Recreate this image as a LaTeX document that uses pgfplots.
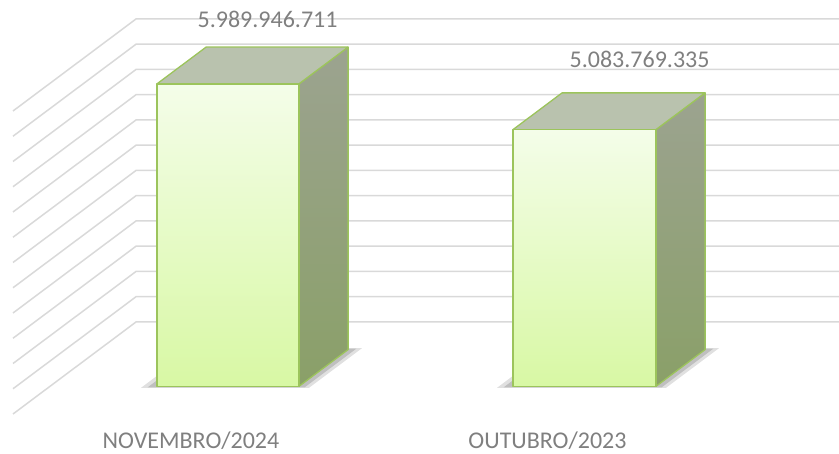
\documentclass[border=0pt]{standalone}
\usepackage{pgfplots}
\pgfplotsset{compat=1.18}
\usepackage{fontspec}
\setmainfont{Carlito}
\definecolor{gridc}{HTML}{D9D9D9}
\definecolor{txt}{HTML}{7F7F7F}
\definecolor{edge}{HTML}{9CC45C}
\definecolor{frontT}{HTML}{F4FDE9}
\definecolor{frontB}{HTML}{D8F8A4}
\definecolor{topf}{HTML}{B9C2AE}
\definecolor{sideT}{HTML}{9CA390}
\definecolor{sideB}{HTML}{8AA068}
\newcommand\drawbar[3]{%
  \addplot3[draw=none, fill=black, fill opacity=0.12] coordinates {(#1-14,0.285,0) (#2+12,0.285,0) (#2+12,0.715,0) (#1-14,0.715,0)} --cycle;
  \addplot3[draw=none, fill=black, fill opacity=0.15] coordinates {(#1-8,0.29,0) (#2+7,0.29,0) (#2+7,0.71,0) (#1-8,0.71,0)} --cycle;
  \addplot3[draw=edge, line width=1.3pt, line join=round, top color=sideT, bottom color=sideB] coordinates {(#2,0.3,0) (#2,0.7,0) (#2,0.7,#3) (#2,0.3,#3)} --cycle;
  \addplot3[draw=edge, line width=1.3pt, line join=round, fill=topf] coordinates {(#1,0.3,#3) (#2,0.3,#3) (#2,0.7,#3) (#1,0.7,#3)} --cycle;
  \addplot3[draw=edge, line width=1.3pt, line join=round, top color=frontT, bottom color=frontB] coordinates {(#1,0.3,0) (#2,0.3,0) (#2,0.3,#3) (#1,0.3,#3)} --cycle;
}
\begin{document}
\begin{tikzpicture}
\begin{axis}[
  x={(1pt,0pt)}, y={(123pt,92pt)}, z={(0pt,50.5pt)},
  xmin=0, xmax=716, ymin=0, ymax=1, zmin=0, zmax=6,
  hide axis, clip=false,
]
\pgfplotsinvokeforeach{0,0.5,1,1.5,2,2.5,3,3.5,4,4.5,5,5.5,6}{
  \addplot3[gridc, line width=1.5pt, mark=none] coordinates {(13,0,#1) (13,1,#1) (716,1,#1)};
}
\drawbar{120}{262}{5.989946711}
\drawbar{476}{619}{5.083769335}
\node[text=txt, font=\fontsize{24}{28}\selectfont, inner sep=0pt] at (axis cs:191,0.7,5.989946711) [xshift=-9.5pt, yshift=28pt] {5.989.946.711};
\node[text=txt, font=\fontsize{24}{28}\selectfont, inner sep=0pt] at (axis cs:547.5,0.7,5.083769335) [xshift=6pt, yshift=33pt] {5.083.769.335};
\node[text=txt, font=\fontsize{24}{28}\selectfont, inner sep=0pt, anchor=base] at (axis cs:191,0,0) [yshift=-35pt] {NOVEMBRO/2024};
\node[text=txt, font=\fontsize{24}{28}\selectfont, inner sep=0pt, anchor=base] at (axis cs:547.5,0,0) [yshift=-35pt] {OUTUBRO/2023};
\coordinate (BL) at (axis cs:0,0,-0.792);
\coordinate (TR) at (axis cs:839,0,8.198);
\end{axis}
\pgfresetboundingbox
\useasboundingbox (BL) rectangle (TR);
\end{tikzpicture}
\end{document}
